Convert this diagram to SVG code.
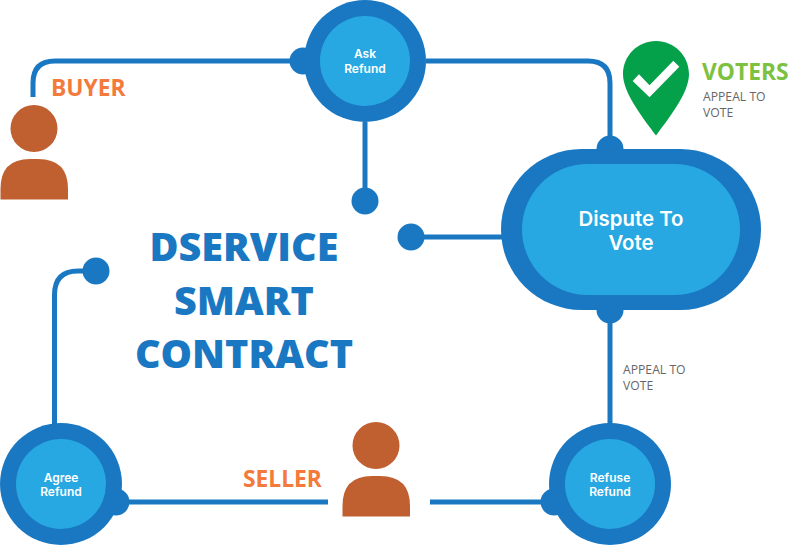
<svg xmlns="http://www.w3.org/2000/svg" width="791" height="546" viewBox="0 0 791 546">
<style>
.line{fill:none;stroke:#1a78c2;stroke-width:5}
.dot,.outer{fill:#1a78c2}
.inner{fill:#27a8e2}
.person{fill:#c05f2f}
.node{font-family:Inter,"Liberation Sans",sans-serif;font-weight:600;font-size:12px;fill:#fff;text-anchor:middle}
.big{font-size:20.400px}
.role{font-family:"Open Sans","Liberation Sans",sans-serif;font-weight:700;font-size:22.800px;fill:#f47a3c}
.note{font-family:"Open Sans","Liberation Sans",sans-serif;font-size:12.200px;fill:#666}
.title{font-family:"Open Sans","Liberation Sans",sans-serif;font-weight:800;font-size:39.600px;fill:#1a78c2;text-anchor:middle}
</style>
<rect width="791" height="546" fill="#fff"/>
<g id="connectors">
<path class="line" d="M33 97V83Q33 61 55 61H303"/>
<circle class="dot" cx="303" cy="61" r="13.5"/>
<path class="line" d="M365 122V201"/>
<circle class="dot" cx="365" cy="201" r="13.5"/>
<path class="line" d="M426 61H588Q610 61 610 83V149"/>
<circle class="dot" cx="610" cy="149" r="13.5"/>
<path class="line" d="M411 237H502"/>
<circle class="dot" cx="411" cy="237" r="13.5"/>
<path class="line" d="M610 310V424"/>
<circle class="dot" cx="610" cy="310" r="13.5"/>
<path class="line" d="M54.5 424V295Q54.5 271 78 271H96"/>
<circle class="dot" cx="96" cy="271" r="13.5"/>
<path class="line" d="M116 502H328"/>
<circle class="dot" cx="116" cy="502" r="13.5"/>
<path class="line" d="M430 502H554"/>
<circle class="dot" cx="554" cy="502" r="13.5"/>
</g>
<g id="ask-refund">
<circle class="outer" cx="365" cy="61" r="61"/>
<circle class="inner" cx="365" cy="61" r="45"/>
<text class="node" x="365" y="58">Ask</text>
<text class="node" x="365" y="73">Refund</text>
</g>
<g id="dispute-to-vote">
<rect class="outer" x="501" y="149" width="260" height="161" rx="80.500"/>
<rect class="inner" x="522" y="164" width="218" height="131" rx="65.500"/>
<text class="node big" x="631" y="225.500">Dispute To</text>
<text class="node big" x="631" y="249.500">Vote</text>
</g>
<g id="agree-refund">
<circle class="outer" cx="61" cy="484" r="61"/>
<circle class="inner" cx="61" cy="484" r="45"/>
<text class="node" x="61" y="482">Agree</text>
<text class="node" x="61" y="496">Refund</text>
</g>
<g id="refuse-refund">
<circle class="outer" cx="610" cy="484" r="61"/>
<circle class="inner" cx="610" cy="484" r="45"/>
<text class="node" x="610" y="482">Refuse</text>
<text class="node" x="610" y="496">Refund</text>
</g>
<g id="buyer">
<circle class="person" cx="34" cy="128.500" r="23.500"/>
<path class="person" d="M0.500 199.500V189Q0.500 159 30 159H38Q68 159 68 189V199.500Z"/>
<text class="role" x="51" y="96">BUYER</text>
</g>
<g id="seller">
<circle class="person" cx="376" cy="445.500" r="23.500"/>
<path class="person" d="M342.500 516.500V506Q342.500 476 372 476H380Q410 476 410 506V516.500Z"/>
<text class="role" x="243" y="487">SELLER</text>
</g>
<g id="voters">
<path d="M656 41C637.500 41 623 56 623 74C623 93 643 118 656 135.500C669 118 689 93 689 74C689 56 674.500 41 656 41Z" fill="#04a04a"/>
<path d="M632.700 81L639 74.300L649.500 85.300L673.300 60.700L679.300 66.700L649.500 97.300Z" fill="#fff"/>
<text class="role" style="fill:#7cc13f" x="702" y="80">VOTERS</text>
<text class="note" x="703" y="101">APPEAL TO</text>
<text class="note" x="703" y="117">VOTE</text>
</g>
<g id="appeal-label">
<text class="note" x="623" y="374">APPEAL TO</text>
<text class="note" x="623" y="390">VOTE</text>
</g>
<g id="title">
<text class="title" x="244" y="261">DSERVICE</text>
<text class="title" x="244" y="315">SMART</text>
<text class="title" x="244" y="368">CONTRACT</text>
</g>
</svg>
